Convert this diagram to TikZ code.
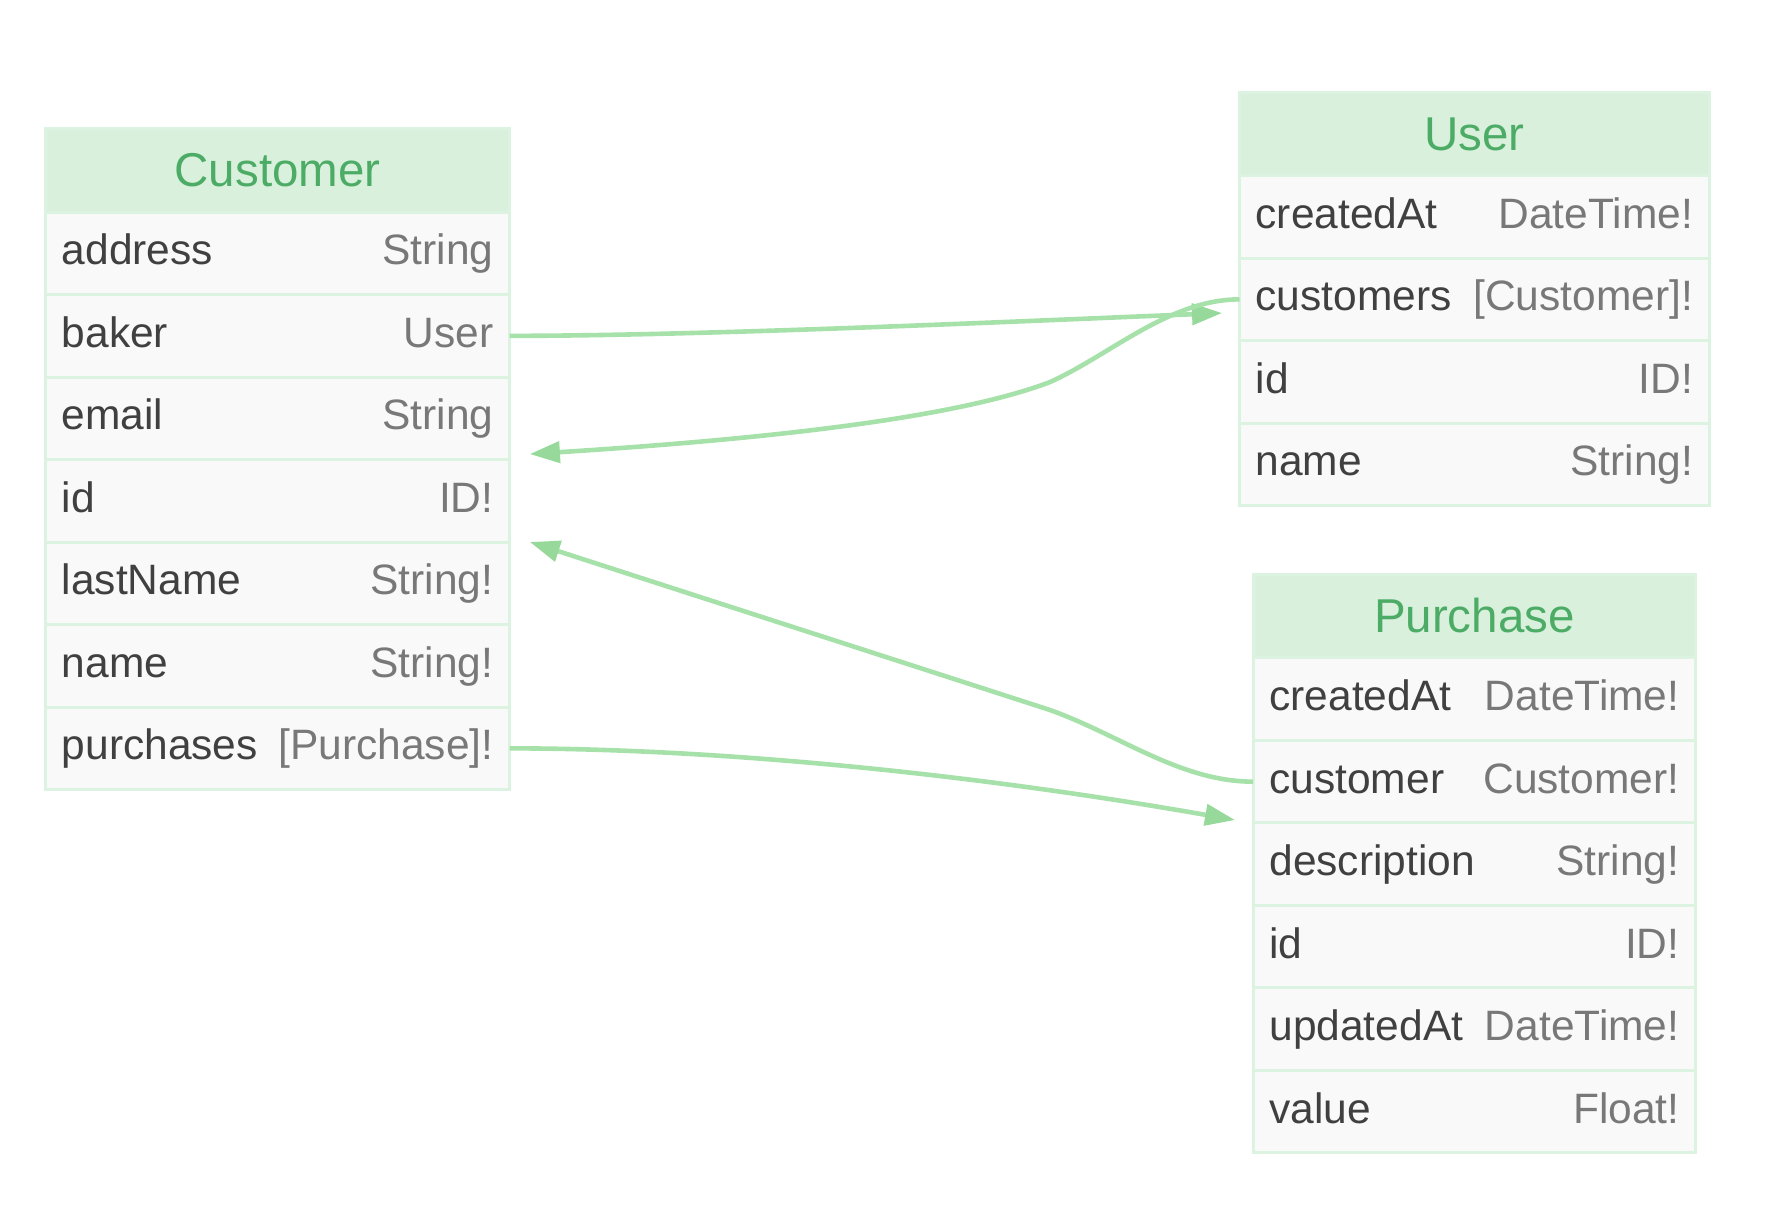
\documentclass[tikz,border=0pt]{standalone}
\usepackage{fontspec}
\setmainfont{Liberation Sans}
\usetikzlibrary{arrows.meta,calc}
\definecolor{hdrfill}{RGB}{217,240,221}
\definecolor{ttlcol}{RGB}{76,172,102}
\definecolor{rowfill}{RGB}{249,249,249}
\definecolor{bordercol}{RGB}{221,243,225}
\definecolor{namecol}{RGB}{64,64,64}
\definecolor{typecol}{RGB}{120,120,120}
\definecolor{linecol}{RGB}{166,225,170}
\definecolor{arrowcol}{RGB}{150,217,155}
\tikzset{
  hdr/.style={rectangle, fill=hdrfill, draw=none, minimum height=83.2pt, inner sep=0pt, outer sep=0pt, anchor=north west},
  fieldrow/.style={rectangle, fill=rowfill, draw=bordercol, line width=3pt, minimum height=82.5pt, inner sep=0pt, outer sep=0pt, anchor=north west},
  ttl/.style={anchor=base, text=ttlcol, font=\fontsize{47.5}{56}\selectfont, inner sep=0pt},
  fname/.style={anchor=base west, text=namecol, font=\fontsize{42.5}{50}\selectfont, inner sep=0pt},
  ftype/.style={anchor=base east, text=typecol, font=\fontsize{42.5}{50}\selectfont, inner sep=0pt},
  tblframe/.style={draw=bordercol, line width=3pt},
  rel/.style={draw=linecol, line width=4.6pt, -{Triangle[length=30pt,width=21pt,color=arrowcol]}},
}
\newcommand{\ertable}[7]{%
  \node[hdr, minimum width=#4pt] (#1) at (#2,#3) {};
  \node[ttl] (#1-title) at ($(#1.center)+(0,16)$) {#5};
  \foreach \fn/\ft [count=\i] in {#6} {
    \node[fieldrow, minimum width=#4pt] (#1-\i) at ($(#1.south west)+(0,{(\i-1)*82.5})$) {};
    \node[fname] (#1-\i-n) at ($(#1-\i.west)+(16,11.5)$) {\fn};
    \node[ftype] (#1-\i-t) at ($(#1-\i.east)+(-16,11.5)$) {\ft};
  }
  \draw[tblframe] (#1.north west) rectangle (#1-#7.south east);
}
\begin{document}
\begin{tikzpicture}[x=1pt,y=-1pt]
\fill[white] (0,0) rectangle (1788,1216);
\useasboundingbox (0,0) rectangle (1788,1216);

\ertable{cust}{45.6}{128.9}{464}{Customer}{address/String, baker/User, email/String, id/ID!, lastName/String!, name/String!, purchases/{[Purchase]!}}{7}
\ertable{user}{1239.5}{92.4}{469.8}{User}{createdAt/DateTime!, customers/{[Customer]!}, id/ID!, name/String!}{4}
\ertable{pur}{1253.2}{574.7}{442.4}{Purchase}{createdAt/DateTime!, customer/Customer!, description/String!, id/ID!, updatedAt/DateTime!, value/Float!}{6}

\coordinate (uTip) at ($(user-2.west)+(-17.5,13.7)$);
\draw[rel] (cust-2.east) .. controls +(190,0) and +(-222,9) .. (uTip);

\coordinate (b2) at ($(user-2.west)+(-189.5,82.7)$);
\coordinate (cTip1) at ($(cust-3.east)+(20.3,35.7)$);
\draw[rel] (user-2.west) .. controls +(-70,0) and +(60,-27) .. (b2) .. controls +(-100,38) and +(220,-14) .. (cTip1);

\coordinate (b3) at ($(pur-2.west)+(-203.2,-71.65)$);
\coordinate (cTip2) at ($(cust-5.east)+(20.3,-41.35)$);
\draw[rel] (pur-2.west) .. controls +(-73,0) and +(70,25) .. (b3) .. controls +(-173,-56) and +(173,56) .. (cTip2);

\coordinate (pTip) at ($(pur-2.west)+(-18.2,38.35)$);
\draw[rel] (cust-7.east) .. controls +(190,0) and +(-285,-50) .. (pTip);
\end{tikzpicture}
\end{document}
